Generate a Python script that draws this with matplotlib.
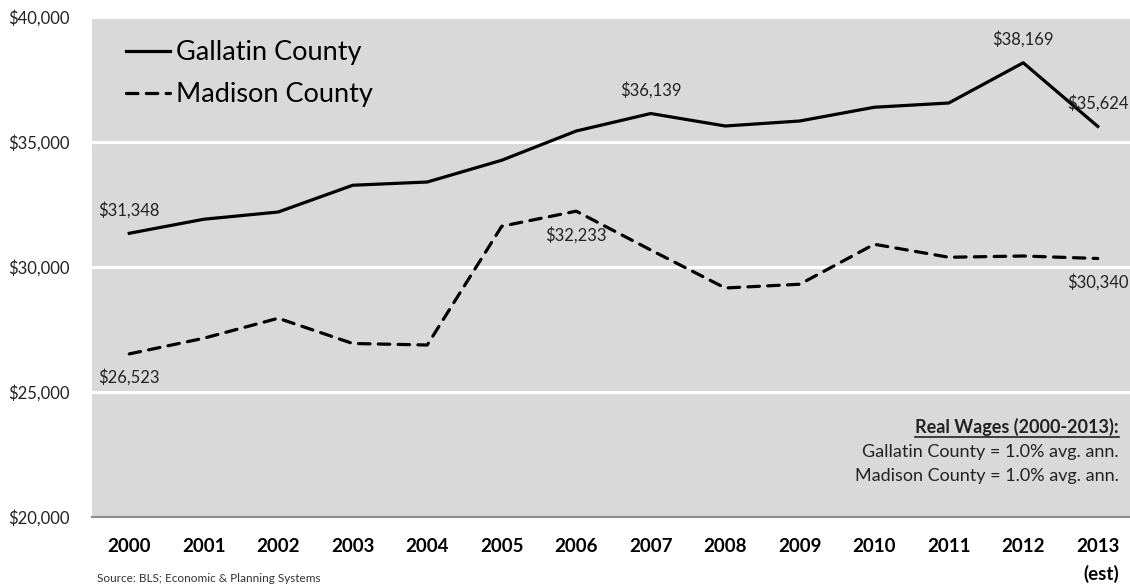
import matplotlib
matplotlib.use("Agg")
import matplotlib.pyplot as plt
from matplotlib.ticker import FuncFormatter

plt.rcParams['font.family'] = ['Lato', 'DejaVu Sans']

years = ["2000", "2001", "2002", "2003", "2004", "2005", "2006",
         "2007", "2008", "2009", "2010", "2011", "2012", "2013\n(est)"]
gallatin = [31348, 31910, 32200, 33270, 33400, 34270, 35440,
            36139, 35640, 35840, 36390, 36560, 38169, 35624]
madison = [26523, 27150, 27950, 26940, 26880, 31630, 32233,
           30680, 29160, 29310, 30910, 30390, 30440, 30340]

# labelled points: (index, position)
gallatin_labels = [(0, "above"), (7, "above"), (12, "above"), (13, "above")]
madison_labels = [(0, "below"), (6, "below"), (13, "below")]

W, H = 1130, 586
fig = plt.figure(figsize=(W / 100, H / 100), dpi=100)
ax = fig.add_axes([92 / W, (H - 517) / H, 1043 / W, 500 / H])
ax.set_facecolor("#D9D9D9")

x = list(range(len(years)))
ax.set_xlim(-0.5, len(years) - 0.5)
ax.set_ylim(20000, 40000)
ax.set_yticks([20000, 25000, 30000, 35000, 40000])
ax.yaxis.set_major_formatter(FuncFormatter(lambda v, p: f"${v:,.0f}"))
ax.grid(axis="y", color="white", linewidth=2.2)
ax.set_axisbelow(True)

for side in ("top", "right", "left"):
    ax.spines[side].set_visible(False)
ax.spines["bottom"].set_color("#8C8C8C")
ax.spines["bottom"].set_linewidth(1.5)

ax.tick_params(axis="y", length=0, pad=16, labelsize=12, labelcolor="#222222")
ax.tick_params(axis="x", length=0, pad=15, labelsize=13.5)
ax.set_xticks(x)
ax.set_xticklabels(years, fontweight="bold", linespacing=1.65)
ax.get_xticklabels()[-1].set_multialignment("right")

ax.plot(x, gallatin, color="black", linewidth=2.3, label="Gallatin County",
        solid_joinstyle="round")
ax.plot(x, madison, color="black", linewidth=2.3, linestyle=(0, (3.6, 2.6)),
        dash_capstyle="round", label="Madison County")

def put(series, idx, where):
    v = series[idx]
    dy = 17 if where == "above" else -17
    ax.annotate(f"${v:,.0f}", (idx, v), xytext=(0, dy), textcoords="offset points",
                ha="center", va="center", fontsize=12, color="#222222")

for i, w in gallatin_labels:
    put(gallatin, i, w)
for i, w in madison_labels:
    put(madison, i, w)

ax.legend(loc="upper left", bbox_to_anchor=(0.022, 0.975), frameon=False,
          fontsize=19.5, handlelength=1.65, handletextpad=0.2,
          labelspacing=0.62, borderaxespad=0)

fig.text(1119 / W, (H - 427) / H, "Real Wages (2000-2013):", ha="right", va="center",
         fontsize=13, fontweight="bold", color="#222222")
ul_y = (H - 437) / H
fig.text(1119 / W, (H - 452) / H, "Gallatin County = 1.0% avg. ann.", ha="right",
         va="center", fontsize=13, color="#222222")
fig.text(1119 / W, (H - 476) / H, "Madison County = 1.0% avg. ann.", ha="right",
         va="center", fontsize=13, color="#222222")

# underline for the summary heading
fig.canvas.draw()
r = fig.canvas.get_renderer()
hd = [tx for tx in fig.texts if tx.get_text().startswith("Real")][0]
bb = hd.get_window_extent(renderer=r)
fig.add_artist(plt.Line2D([bb.x0 / W, bb.x1 / W], [ul_y, ul_y], color="#222222",
                          linewidth=1.2, transform=fig.transFigure))

fig.text(97 / W, 1.5 / H, "Source: BLS; Economic & Planning Systems",
         ha="left", va="bottom", fontsize=8.5, color="#333333")

fig.savefig("out.png", dpi=100)
